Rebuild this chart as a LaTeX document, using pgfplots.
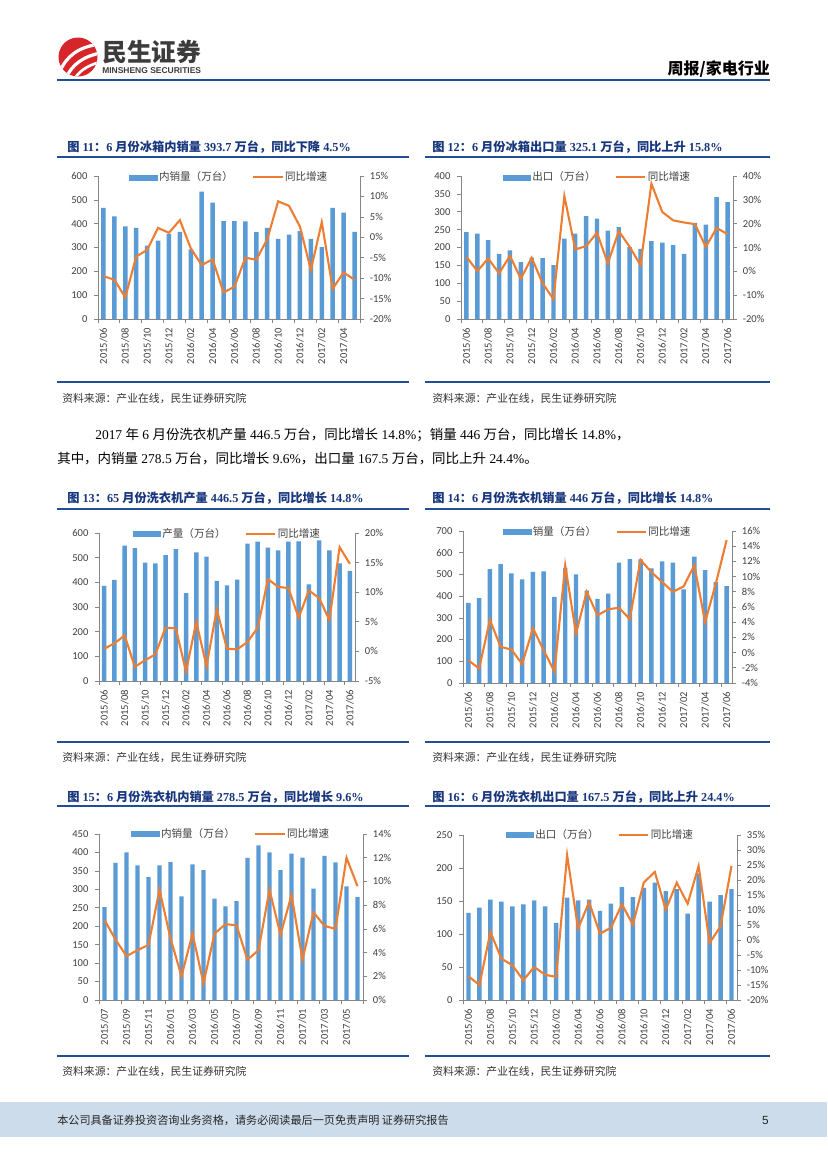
\documentclass[border=0pt]{standalone}
\usepackage{fontspec}
\usepackage{pgfplots}
\usepackage{pgfplotstable}
\pgfplotsset{compat=1.18}
\setmainfont{Carlito}
\newfontfamily\cjk{Noto Sans CJK SC}
\newfontfamily\sernum{Liberation Serif}
\newfontfamily\arialf{Liberation Sans}
\newcommand\zh[1]{{\cjk #1}}

\definecolor{barblue}{RGB}{91,155,213}
\definecolor{lineorange}{RGB}{237,125,49}
\definecolor{axisgray}{RGB}{134,134,134}
\definecolor{ticktext}{RGB}{64,64,64}
\definecolor{navy}{RGB}{23,54,125}
\definecolor{rulblue}{RGB}{31,78,150}
\definecolor{footband}{RGB}{205,220,234}
\definecolor{logored}{RGB}{214,38,42}
\definecolor{logogray}{RGB}{60,60,60}

% fridge domestic sales
\pgfplotstableread{
bar yoy
466 -9.5
431 -10.4
389 -14.7
382 -4.7
308 -3.1
329 2.3
357 1.1
366 4.2
292 -2.7
534 -6.8
488 -5.4
411 -13.5
411 -12.1
410 -5.0
365 -5.5
382 -0.5
336 8.8
354 7.7
369 2.6
336 -8.0
302 3.7
466 -12.6
446 -8.6
366 -10.4
}\dataA
% fridge exports
\pgfplotstableread{
bar yoy
243 6.1
239 0.1
221 5.4
182 -0.8
192 6.5
159 -3.1
172 5.7
170 -5.0
151 -11.7
225 31.6
239 9.2
288 10.6
281 16.2
247 3.3
257 16.9
201 10.3
196 2.6
218 36.8
214 24.9
207 21.4
182 20.5
269 19.8
264 10.3
341 18.2
327 15.6
}\dataB
% washer output
\pgfplotstableread{
bar yoy
386 0.45
410 1.35
549 2.7
539 -2.6
480 -1.5
477 -0.5
510 4.0
535 3.9
356 -3.4
522 5.0
504 -2.5
406 7.1
388 0.45
411 0.35
557 1.6
565 4.0
541 12.2
530 10.9
565 10.7
566 5.7
392 10.3
570 9.0
530 5.3
477 17.6
446 14.8
}\dataC
% washer sales
\pgfplotstableread{
bar yoy
369 -1.0
391 -2.1
525 4.3
548 0.75
505 0.4
477 -1.5
512 3.2
514 0.3
397 -2.5
530 11.5
500 2.5
425 8.0
388 4.9
412 5.7
554 5.9
571 4.4
569 12.2
528 10.6
560 9.3
554 8.0
431 8.7
582 11.5
520 4.0
465 9.1
446 14.8
}\dataD
% washer domestic sales
\pgfplotstableread{
bar yoy
252 6.75
372 5.1
400 3.7
365 4.2
333 4.65
365 9.3
374 5.2
281 2.0
368 5.6
352 1.4
275 5.6
254 6.4
268 6.3
385 3.4
419 4.2
400 9.3
352 5.5
397 8.85
386 3.4
302 7.4
391 6.25
373 6.0
308 12.0
279 9.6
}\dataE
% washer exports
\pgfplotstableread{
bar yoy
132 -12.1
140 -15.0
152 2.7
149 -6.2
142 -8.4
145 -13.4
151 -9.0
142 -11.6
117 -12.3
155 28.3
151 3.8
152 12.6
135 2.1
146 4.1
171 11.9
156 5.1
170 19.2
178 22.7
165 10.1
168 19.1
131 12.1
192 24.7
149 -1.0
159 4.6
168 24.7
}\dataF

\pgfplotsset{
  common/.style={
    scale only axis, anchor=south west,
    axis line style={draw=axisgray, line width=0.5pt, -},
    tick style={draw=axisgray, line width=0.5pt},
    tick align=outside, major tick length=2.6pt,
    ticklabel style={font=\fontsize{7.6}{8}\selectfont, text=ticktext},
    /pgf/number format/assume math mode=true,
  },
  barax/.style={
    common,
    axis x line*=bottom, axis y line*=left,
    ybar, bar width=3.2pt, bar shift=0pt,
    xticklabels={},
    extra x tick style={major tick length=0pt, tick style={draw=none}},
    x tick label style={rotate=90, anchor=east, font=\fontsize{7.6}{8}\selectfont},
    xticklabel shift=3pt, yticklabel shift=1.5pt,
    enlargelimits=false,
  },
  lineax/.style={
    common,
    axis x line=none, axis y line*=right,
    xtick=\empty, yticklabel shift=1pt,
    yticklabel={\pgfmathprintnumber{\tick}\%},
    legend style={at={(0.5,1.06)}, anchor=north, draw=none, fill=none,
      legend columns=2, font=\cjk\fontsize{7.6}{8}\selectfont, text=ticktext,
      nodes={inner sep=1pt},
      /tikz/every even column/.append style={column sep=13pt}},
    legend cell align=left,
  },
  barleg/.style={legend image code/.code={\fill[barblue] (0pt,-1.9pt) rectangle (20pt,1.9pt);}},
  yoyline/.style={lineorange, line width=1.5pt, no markers, sharp plot,
    legend image code/.code={\draw[lineorange, line width=1.5pt] (0pt,0pt) -- (21pt,0pt);}},
}

\begin{document}
\begin{tikzpicture}
\begin{scope}[x=0.72pt, y=-0.72pt]
\fill[white] (0,0) rectangle (827,1169);
% logo
\fill[logored] (78,57) circle (19.5);
\begin{scope}
\clip (78,57) circle (19.5);
\draw[white, line width=2.3pt] (60,71) .. controls (67,56) and (78,47) .. (100,44);
\draw[white, line width=2.3pt] (66,78) .. controls (72,65) and (82,57) .. (100,53);
\draw[white, line width=1.9pt] (74,80) .. controls (78,72) and (86,66) .. (100,62);
\end{scope}
\node[anchor=west, inner sep=0pt, text=logogray, font=\cjk\bfseries\fontsize{17.8}{18}\selectfont] at (102,52.5) {民生证券};
\node[anchor=west, inner sep=0pt, text=logogray, font=\arialf\bfseries\fontsize{6.1}{6}\selectfont] at (102,71) {MINSHENG SECURITIES};
\node[anchor=east, inner sep=0pt, font=\cjk\bfseries\fontsize{11.5}{12}\selectfont] at (770,69) {周报/家电行业};
\draw[rulblue, line width=1.5pt] (57,80) -- (770,80);

% titles and rules
\begin{scope}[every node/.style={anchor=west, inner sep=0pt, text=navy, font=\sernum\bfseries\fontsize{8.8}{10}\selectfont}]
\node at (67,147) {\zh{图} 11\zh{：}6 \zh{月份冰箱内销量} 393.7 \zh{万台，同比下降} 4.5\%};
\node at (432,147) {\zh{图} 12\zh{：}6 \zh{月份冰箱出口量} 325.1 \zh{万台，同比上升} 15.8\%};
\node at (67,498) {\zh{图} 13\zh{：}65 \zh{月份洗衣机产量} 446.5 \zh{万台，同比增长} 14.8\%};
\node at (432,498) {\zh{图} 14\zh{：}6 \zh{月份洗衣机销量} 446 \zh{万台，同比增长} 14.8\%};
\node at (67,797) {\zh{图} 15\zh{：}6 \zh{月份洗衣机内销量} 278.5 \zh{万台，同比增长} 9.6\%};
\node at (432,797) {\zh{图} 16\zh{：}6 \zh{月份洗衣机出口量} 167.5 \zh{万台，同比上升} 24.4\%};
\end{scope}
\foreach \yy in {157,382,509,742,806,1056} {
  \draw[rulblue, line width=1.4pt] (57,\yy) -- (409,\yy);
  \draw[rulblue, line width=1.4pt] (425,\yy) -- (770,\yy);
}
\begin{scope}[every node/.style={anchor=west, inner sep=0pt, text=black!80, font=\cjk\fontsize{7.8}{8}\selectfont}]
\node at (62,398) {资料来源：产业在线，民生证券研究院};
\node at (432,398) {资料来源：产业在线，民生证券研究院};
\node at (62,757) {资料来源：产业在线，民生证券研究院};
\node at (432,757) {资料来源：产业在线，民生证券研究院};
\node at (62,1071) {资料来源：产业在线，民生证券研究院};
\node at (432,1071) {资料来源：产业在线，民生证券研究院};
\end{scope}

% body text
\begin{scope}[every node/.style={anchor=west, inner sep=0pt, font=\sernum\fontsize{9.7}{11}\selectfont}]
\node at (95,435) {2017 \zh{年} 6 \zh{月份洗衣机产量} 446.5 \zh{万台，同比增长} 14.8\%\zh{；销量} 446 \zh{万台，同比增长} 14.8\%\zh{，}};
\node at (57,459) {\zh{其中，内销量} 278.5 \zh{万台，同比增长} 9.6\%\zh{，出口量} 167.5 \zh{万台，同比上升} 24.4\%\zh{。}};
\end{scope}

% footer
\fill[footband] (0,1102) rectangle (827,1137);
\node[anchor=west, inner sep=0pt, font=\cjk\fontsize{8}{9}\selectfont, text=black!85] at (57,1120) {本公司具备证券投资咨询业务资格，请务必阅读最后一页免责声明 证券研究报告};
\node[anchor=east, inner sep=0pt, font=\arialf\fontsize{8.5}{9}\selectfont, text=black!85] at (769,1120) {5};
\end{scope}

% ---- Fig 11 ----
\begin{axis}[barax, at={(70.56pt,-229.68pt)}, width=188.64pt, height=102.96pt,
  xmin=-0.5, xmax=23.5, ymin=0, ymax=600, ytick={0,100,...,600},
  xtick={-0.5,1.5,...,23.5},
  extra x ticks={0,2,...,22},
  extra x tick labels={2015/06,2015/08,2015/10,2015/12,2016/02,2016/04,2016/06,2016/08,2016/10,2016/12,2017/02,2017/04}]
\addplot[fill=barblue, draw=none] table[x expr=\coordindex, y=bar] {\dataA};
\end{axis}
\begin{axis}[lineax, at={(70.56pt,-229.68pt)}, width=188.64pt, height=102.96pt,
  xmin=-0.5, xmax=23.5, ymin=-20, ymax=15, ytick={-20,-15,...,15}]
\addlegendimage{barleg}
\addlegendentry{内销量（万台）}
\addplot[yoyline] table[x expr=\coordindex, y=yoy] {\dataA};
\addlegendentry{同比增速}
\end{axis}

% ---- Fig 12 ----
\begin{axis}[barax, at={(331.92pt,-229.68pt)}, width=195.84pt, height=102.96pt,
  xmin=-0.5, xmax=24.5, ymin=0, ymax=400, ytick={0,50,...,400},
  xtick={-0.5,1.5,...,23.5},
  extra x ticks={0,2,...,24},
  extra x tick labels={2015/06,2015/08,2015/10,2015/12,2016/02,2016/04,2016/06,2016/08,2016/10,2016/12,2017/02,2017/04,2017/06}]
\addplot[fill=barblue, draw=none] table[x expr=\coordindex, y=bar] {\dataB};
\end{axis}
\begin{axis}[lineax, at={(331.92pt,-229.68pt)}, width=195.84pt, height=102.96pt,
  xmin=-0.5, xmax=24.5, ymin=-20, ymax=40, ytick={-20,-10,...,40}]
\addlegendimage{barleg}
\addlegendentry{出口（万台）}
\addplot[yoyline] table[x expr=\coordindex, y=yoy] {\dataB};
\addlegendentry{同比增速}
\end{axis}

% ---- Fig 13 ----
\begin{axis}[barax, at={(71.28pt,-490.32pt)}, width=184.32pt, height=106.56pt,
  xmin=-0.5, xmax=24.5, ymin=0, ymax=600, ytick={0,100,...,600},
  xtick={-0.5,1.5,...,23.5},
  extra x ticks={0,2,...,24},
  extra x tick labels={2015/06,2015/08,2015/10,2015/12,2016/02,2016/04,2016/06,2016/08,2016/10,2016/12,2017/02,2017/04,2017/06}]
\addplot[fill=barblue, draw=none] table[x expr=\coordindex, y=bar] {\dataC};
\end{axis}
\begin{axis}[lineax, at={(71.28pt,-490.32pt)}, width=184.32pt, height=106.56pt,
  xmin=-0.5, xmax=24.5, ymin=-5, ymax=20, ytick={-5,0,...,20}]
\addlegendimage{barleg}
\addlegendentry{产量（万台）}
\addplot[yoyline] table[x expr=\coordindex, y=yoy] {\dataC};
\addlegendentry{同比增速}
\end{axis}

% ---- Fig 14 ----
\begin{axis}[barax, at={(333.36pt,-491.76pt)}, width=193.68pt, height=109.44pt,
  xmin=-0.5, xmax=24.5, ymin=0, ymax=700, ytick={0,100,...,700},
  xtick={-0.5,1.5,...,23.5},
  extra x ticks={0,2,...,24},
  extra x tick labels={2015/06,2015/08,2015/10,2015/12,2016/02,2016/04,2016/06,2016/08,2016/10,2016/12,2017/02,2017/04,2017/06}]
\addplot[fill=barblue, draw=none] table[x expr=\coordindex, y=bar] {\dataD};
\end{axis}
\begin{axis}[lineax, at={(333.36pt,-491.76pt)}, width=193.68pt, height=109.44pt,
  xmin=-0.5, xmax=24.5, ymin=-4, ymax=16, ytick={-4,-2,...,16}]
\addlegendimage{barleg}
\addlegendentry{销量（万台）}
\addplot[yoyline] table[x expr=\coordindex, y=yoy] {\dataD};
\addlegendentry{同比增速}
\end{axis}

% ---- Fig 15 ----
\begin{axis}[barax, at={(71.28pt,-720pt)}, width=190.08pt, height=119.52pt,
  xmin=-0.5, xmax=23.5, ymin=0, ymax=450, ytick={0,50,...,450},
  xtick={-0.5,1.5,...,23.5},
  extra x ticks={0,2,...,22},
  extra x tick labels={2015/07,2015/09,2015/11,2016/01,2016/03,2016/05,2016/07,2016/09,2016/11,2017/01,2017/03,2017/05}]
\addplot[fill=barblue, draw=none] table[x expr=\coordindex, y=bar] {\dataE};
\end{axis}
\begin{axis}[lineax, at={(71.28pt,-720pt)}, width=190.08pt, height=119.52pt,
  xmin=-0.5, xmax=23.5, ymin=0, ymax=14, ytick={0,2,...,14}]
\addlegendimage{barleg}
\addlegendentry{内销量（万台）}
\addplot[yoyline] table[x expr=\coordindex, y=yoy] {\dataE};
\addlegendentry{同比增速}
\end{axis}

% ---- Fig 16 ----
\begin{axis}[barax, at={(333.36pt,-720pt)}, width=197.28pt, height=118.8pt,
  xmin=-0.5, xmax=24.5, ymin=0, ymax=250, ytick={0,50,...,250},
  xtick={-0.5,1.5,...,23.5},
  extra x ticks={0,2,...,24},
  extra x tick labels={2015/06,2015/08,2015/10,2015/12,2016/02,2016/04,2016/06,2016/08,2016/10,2016/12,2017/02,2017/04,2017/06}]
\addplot[fill=barblue, draw=none] table[x expr=\coordindex, y=bar] {\dataF};
\end{axis}
\begin{axis}[lineax, at={(333.36pt,-720pt)}, width=197.28pt, height=118.8pt,
  xmin=-0.5, xmax=24.5, ymin=-20, ymax=35, ytick={-20,-15,...,35}]
\addlegendimage{barleg}
\addlegendentry{出口（万台）}
\addplot[yoyline] table[x expr=\coordindex, y=yoy] {\dataF};
\addlegendentry{同比增速}
\end{axis}
\end{tikzpicture}
\end{document}
